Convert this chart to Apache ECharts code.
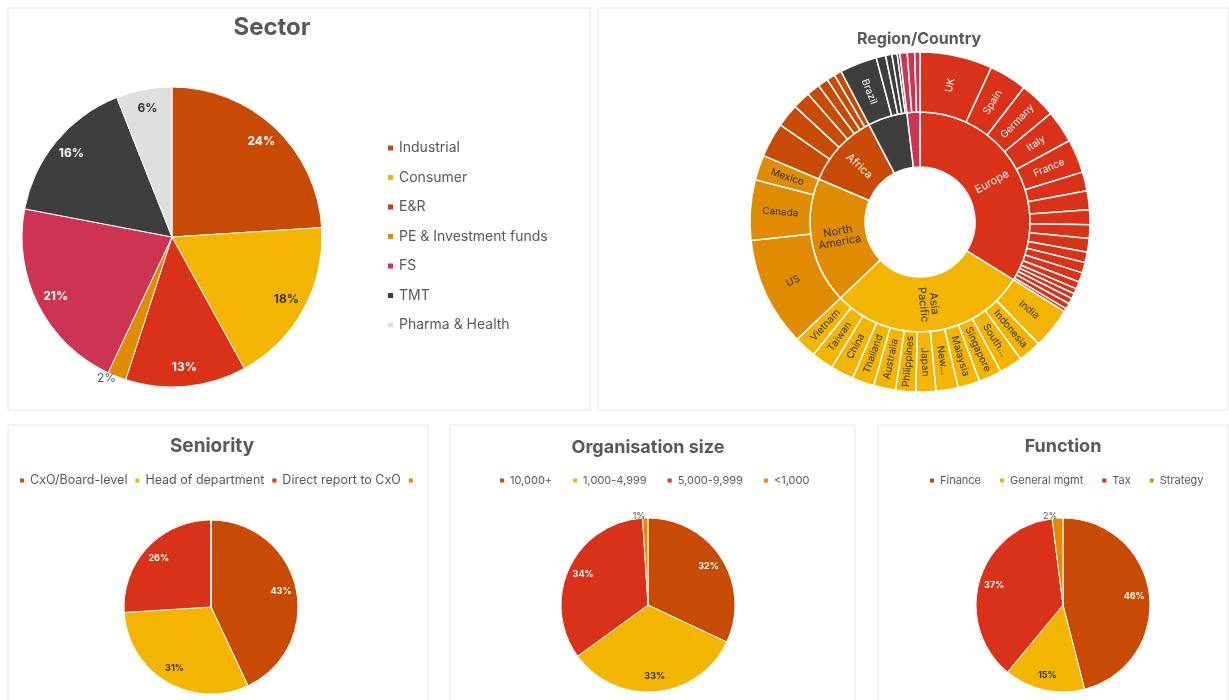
<!DOCTYPE html>
<html>
<head>
<meta charset="utf-8">
<script src="https://cdn.jsdelivr.net/npm/echarts@6/dist/echarts.min.js"></script>
<style>
html, body { margin: 0; padding: 0; background: #fff; }
#main { width: 1229px; height: 700px; }
</style>
</head>
<body>
<div id="main"></div>
<script>
// ---- data (shares of respondents, %) ----
var sectorNames = ['Industrial', 'Consumer', 'E&R', 'PE & Investment funds', 'FS', 'TMT', 'Pharma & Health'];
var sectorValues = [24, 18, 13, 2, 21, 16, 6];

var seniorityNames = ['CxO/Board-level', 'Head of department', 'Direct report to CxO', ' '];
var seniorityValues = [43, 31, 26, 0];

var orgNames = ['10,000+', '1,000-4,999', '5,000-9,999', '<1,000'];
var orgValues = [32, 33, 34, 1];

var functionNames = ['Finance', 'General mgmt', 'Tax', 'Strategy'];
var functionValues = [46, 15, 37, 2];

// region / country sunburst
var regionNames = ['Europe', 'Asia Pacific', 'North America', 'Africa', 'Latin America', 'Middle East'];
var europeCountries = ['UK', 'Spain', 'Germany', 'Italy', 'France', 'Europe 6', 'Europe 7', 'Europe 8', 'Europe 9',
  'Europe 10', 'Europe 11', 'Europe 12', 'Europe 13', 'Europe 14', 'Europe 15', 'Europe 16', 'Europe 17', 'Europe 18', 'Europe 19'];
var europeValues = [6.9, 3.6, 3.5, 3.1, 3.2, 1.8, 1.8, 1.4, 1.3, 1.3, 1.0, 1.0, 0.9, 0.7, 0.5, 0.5, 0.55, 0.55, 0.3];
var apacCountries = ['India', 'Indonesia', 'South Korea', 'Singapore', 'Malaysia', 'New Zealand', 'Japan',
  'Philippines', 'Australia', 'Thailand', 'China', 'Taiwan', 'Vietnam'];
var apacValues = [3.9, 2.2, 2.2, 2.2, 2.1, 2.1, 1.9, 1.9, 2.1, 2.1, 2.2, 2.1, 2.1];
var naCountries = ['US', 'Canada', 'Mexico'];
var naValues = [10.4, 5.75, 2.4];
var africaCountries = ['Africa 1', 'Africa 2', 'Africa 3', 'Africa 4', 'Africa 5', 'Africa 6', 'Africa 7'];
var africaValues = [3.3, 2.2, 1.7, 1.25, 1.0, 0.8, 0.7];
var latamCountries = ['Brazil', 'Latin America 2', 'Latin America 3', 'Latin America 4', 'Latin America 5'];
var latamValues = [3.55, 0.9, 0.6, 0.5, 0.25];
var meCountries = ['Middle East 1', 'Middle East 2', 'Middle East 3'];
var meValues = [0.7, 0.7, 0.5];

// ---- styles ----
var palette = ['#C84B05', '#F4B500', '#DA3119', '#E08B00', '#CF3352', '#3E3E3E', '#DFDFDF'];
var dark = '#333333';
var grey = '#595959';
var font = 'Inter';

var labelled = ['Europe', 'Asia Pacific', 'North America', 'Africa', 'UK', 'Spain', 'Germany', 'Italy', 'France',
  'India', 'Indonesia', 'South Korea', 'Singapore', 'Malaysia', 'New Zealand', 'Japan', 'Philippines', 'Australia',
  'Thailand', 'China', 'Taiwan', 'Vietnam', 'US', 'Canada', 'Mexico', 'Brazil'];
var shortLabel = { 'South Korea': 'South...', 'New Zealand': 'New...', 'Asia Pacific': 'Asia\nPacific', 'North America': 'North\nAmerica' };

function children(names, values, color, textColor) {
  return names.map(function (n, i) {
    return {
      name: n, value: values[i],
      itemStyle: { color: color },
      label: { show: labelled.indexOf(n) >= 0, color: textColor }
    };
  });
}
function sum(a) { return a.reduce(function (s, v) { return s + v; }, 0); }

var regionKids = [
  [europeCountries, europeValues, palette[2], '#fff'],
  [apacCountries, apacValues, palette[1], dark],
  [naCountries, naValues, palette[3], dark],
  [africaCountries, africaValues, palette[0], '#fff'],
  [latamCountries, latamValues, palette[5], '#fff'],
  [meCountries, meValues, palette[4], '#fff']
];
var sunData = regionNames.map(function (r, i) {
  var k = regionKids[i];
  return {
    name: r, value: sum(k[1]),
    itemStyle: { color: k[2] },
    label: { show: labelled.indexOf(r) >= 0, color: k[3] },
    children: children(k[0], k[1], k[2], k[3])
  };
});

// pie + label ring (labels sit at ~0.8 of the radius like the original)
function pieSeries(names, values, colors, textColors, center, r, ringIn, fs, outside) {
  var base = names.map(function (n, i) {
    return { name: n, value: values[i], itemStyle: { color: colors[i] } };
  });
  var labels = names.map(function (n, i) {
    var out = outside.indexOf(i) >= 0;
    return {
      name: n, value: values[i],
      label: {
        show: values[i] > 0, color: out ? grey : textColors[i],
        position: out ? 'outside' : 'inside', fontWeight: out ? 'normal' : 'bold'
      },
      labelLine: { show: false }
    };
  });
  return [{
    type: 'pie', center: center, radius: [0, r], startAngle: 90, clockwise: true,
    label: { show: false }, labelLine: { show: false }, silent: true,
    itemStyle: { borderColor: '#fff', borderWidth: 1 },
    emphasis: { disabled: true },
    data: base
  }, {
    type: 'pie', center: center, radius: [r * ringIn, r], startAngle: 90, clockwise: true,
    silent: true, legendHoverLink: false,
    itemStyle: { color: 'rgba(0,0,0,0)' },
    label: { fontSize: fs, fontFamily: font, formatter: '{d}%', distanceToLabelLine: 0 },
    labelLine: { show: false, length: 2, length2: 0 },
    emphasis: { disabled: true },
    data: labels
  }];
}

var legendText = { color: grey, fontFamily: font };

var option = {
  animation: false,
  backgroundColor: '#fff',
  graphic: [
    { type: 'rect', shape: { x: 8, y: 8, width: 582, height: 402 }, style: { fill: 'none', stroke: '#E6E6E6', lineWidth: 1 }, z: -1 },
    { type: 'rect', shape: { x: 598, y: 8, width: 630, height: 402 }, style: { fill: 'none', stroke: '#E6E6E6', lineWidth: 1 }, z: -1 },
    { type: 'rect', shape: { x: 8, y: 425, width: 420, height: 280 }, style: { fill: 'none', stroke: '#E6E6E6', lineWidth: 1 }, z: -1 },
    { type: 'rect', shape: { x: 450, y: 425, width: 405, height: 280 }, style: { fill: 'none', stroke: '#E6E6E6', lineWidth: 1 }, z: -1 },
    { type: 'rect', shape: { x: 878, y: 425, width: 350, height: 280 }, style: { fill: 'none', stroke: '#E6E6E6', lineWidth: 1 }, z: -1 }
  ],
  title: [
    { text: 'Sector', left: 272, top: 16, textAlign: 'center', padding: 0, textStyle: { fontSize: 24, fontWeight: 'bold', color: grey, fontFamily: font } },
    { text: 'Region/Country', left: 919, top: 31, textAlign: 'center', padding: 0, textStyle: { fontSize: 16, fontWeight: 'bold', color: grey, fontFamily: font } },
    { text: 'Seniority', left: 212, top: 437, textAlign: 'center', padding: 0, textStyle: { fontSize: 19, fontWeight: 'bold', color: grey, fontFamily: font } },
    { text: 'Organisation size', left: 648, top: 439, textAlign: 'center', padding: 0, textStyle: { fontSize: 18, fontWeight: 'bold', color: grey, fontFamily: font } },
    { text: 'Function', left: 1063, top: 438, textAlign: 'center', padding: 0, textStyle: { fontSize: 18, fontWeight: 'bold', color: grey, fontFamily: font } }
  ],
  legend: [
    { data: sectorNames, orient: 'vertical', left: 386, top: 141, itemGap: 15.5, itemWidth: 7, itemHeight: 7, icon: 'rect', padding: 0,
      selectedMode: false, textStyle: Object.assign({ fontSize: 14 }, legendText) },
    { data: seniorityNames, left: 18, top: 474, itemGap: 6, itemWidth: 6, itemHeight: 6, icon: 'rect', padding: 0,
      selectedMode: false, textStyle: Object.assign({ fontSize: 12.5 }, legendText) },
    { data: orgNames, left: 498, top: 475, itemGap: 19, itemWidth: 6, itemHeight: 6, icon: 'rect', padding: 0,
      selectedMode: false, textStyle: Object.assign({ fontSize: 11 }, legendText) },
    { data: functionNames, left: 928, top: 475, itemGap: 17, itemWidth: 6, itemHeight: 6, icon: 'rect', padding: 0,
      selectedMode: false, textStyle: Object.assign({ fontSize: 11 }, legendText) }
  ],
  series: []
};

option.series = option.series
  .concat(pieSeries(sectorNames, sectorValues, palette,
    ['#fff', dark, '#fff', '#fff', '#fff', '#fff', dark], [172, 237], 150, 0.7, 12, [3]))
  .concat(pieSeries(seniorityNames, seniorityValues, [palette[0], palette[1], palette[2], palette[3]],
    ['#fff', dark, '#fff', dark], [211, 607], 87, 0.58, 9, []))
  .concat(pieSeries(orgNames, orgValues, [palette[0], palette[1], palette[2], palette[3]],
    ['#fff', dark, '#fff', dark], [648, 605], 87, 0.58, 9, [3]))
  .concat(pieSeries(functionNames, functionValues, [palette[0], palette[1], palette[2], palette[3]],
    ['#fff', dark, '#fff', dark], [1063, 605], 87, 0.58, 9, [3]));

option.series.push({
  type: 'sunburst',
  center: [920, 222],
  startAngle: 90,
  sort: null,
  nodeClick: false,
  emphasis: { disabled: true },
  itemStyle: { borderColor: '#fff', borderWidth: 1.5 },
  label: {
    rotate: 'radial', fontFamily: font, fontSize: 10,
    formatter: function (p) { return shortLabel[p.name] || p.name; }
  },
  levels: [
    {},
    { r0: 55, r: 110, label: { fontSize: 11 } },
    { r0: 110, r: 170, label: { fontSize: 10 } }
  ],
  data: sunData
});

var chart = echarts.init(document.getElementById('main'));
chart.setOption(option);
</script>
</body>
</html>
